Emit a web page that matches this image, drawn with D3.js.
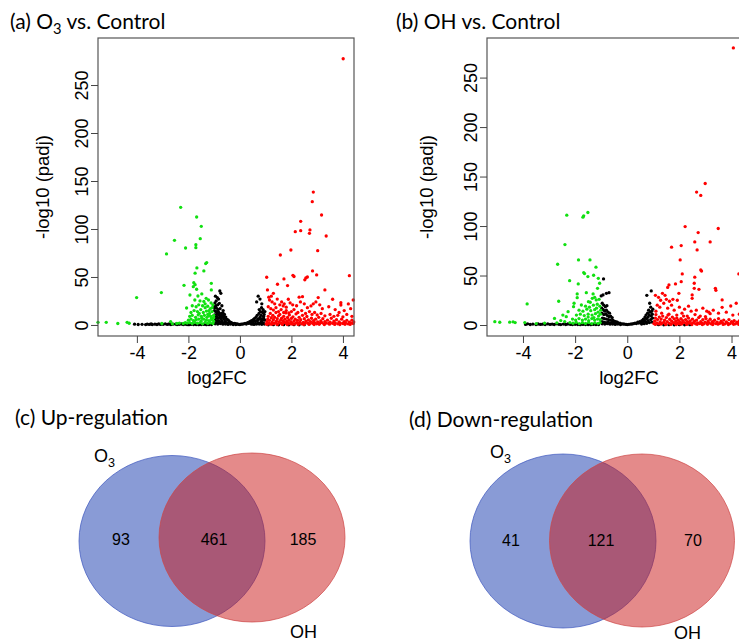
<!DOCTYPE html>
<html>
<head>
<meta charset="utf-8">
<script src="https://cdn.jsdelivr.net/npm/d3@7"></script>
<style>
  body { margin: 0; background: #fff; }
  svg { display: block; }
  .tick text { font-family: "Liberation Sans", Arial, sans-serif; font-size: 18px; fill: #000; }
  .tick line { stroke: #444; }
</style>
</head>
<body>
<svg width="739" height="642"></svg>
<script>
// volcano plots: [log2FC, -log10(padj)]
// (a) O3 vs control
const aNs = [
  [-4.09,0.8],[-3.95,0.5],[-3.8,0.7],[-3.66,0.4],[-3.6,0.9],[-3.52,0.6],[-3.45,1.0],[-3.4,0.5],[-3.3,0.8],[-3.22,0.5],
  [-3.15,1.1],[-3.08,0.6],[-2.98,0.7],[-2.9,1.2],[-2.82,0.6],[-2.75,1.0],[-2.68,0.4],[-2.6,0.8],[-2.5,0.9],[-2.44,0.5],
  [-2.36,0.7],[-2.28,1.0],[-2.2,0.4],[-2.12,0.8],[-2.05,0.5],[-1.98,0.3],[-1.9,0.6],[-1.8,0.4],[-1.7,0.5],[-1.6,0.3],
  [-1.5,0.4],[-1.4,0.6],[-1.3,0.3],[-1.2,0.5],[-1.1,0.4],
  [-0.78,35.4],[-0.74,33],[-0.95,30],[-0.88,28.5],[-0.83,27],[-0.92,25],[-0.97,23],[-0.80,22.5],[-0.86,21],[-0.70,20],
  [-0.96,19],[-0.91,17.5],[-0.77,17],[-0.84,16],[-0.65,15],[-0.99,15],[-0.93,13.5],[-0.82,13],[-0.72,12],[-0.88,11.5],
  [-0.60,11],[-0.98,10.5],[-0.90,9],[-0.78,9.5],[-0.68,8],[-0.55,8.2],[-0.94,7.5],[-0.84,7],[-0.74,6.5],[-0.62,6],
  [-0.50,5.8],[-0.45,5],[-0.96,5],[-0.88,4.5],[-0.80,4],[-0.70,4.2],[-0.58,3.8],[-0.40,3.5],[-0.35,2.8],[-0.92,2.5],
  [-0.82,2.2],[-0.72,2.8],[-0.62,2.0],[-0.52,2.4],[-0.44,1.8],[-0.30,2.0],[-0.25,1.4],[-0.20,1.6],[-0.15,1.0],[-0.10,1.2],
  [-0.05,0.6],[-0.96,1.2],[-0.86,1.0],[-0.76,1.4],[-0.66,0.8],[-0.56,1.0],[-0.46,0.6],[-0.36,0.9],[-0.26,0.5],[-0.16,0.4],
  [-0.99,18],[-0.94,20],[-0.9,14],[-0.85,12],[-0.8,10.5],[-0.75,8],[-0.7,10],[-0.66,12.5],[-0.62,9],[-0.58,7],
  [0.0,0.5],[0.05,0.8],[0.1,0.9],[0.15,1.2],[0.2,1.5],[0.25,1.0],[0.3,2.5],[0.34,1.6],[0.38,3.5],[0.42,2.2],
  [0.45,4.5],[0.5,3.0],[0.52,5.5],[0.56,6.5],[0.6,4.0],[0.62,8],[0.65,24],[0.67,10],[0.71,30],[0.7,6],
  [0.74,12],[0.75,16],[0.78,27],[0.78,8],[0.8,14],[0.82,10],[0.84,18],[0.85,22],[0.86,6],[0.88,13],
  [0.9,16],[0.92,9],[0.94,11],[0.96,5],[0.97,14],[0.5,1.2],[0.6,1.5],[0.7,2.0],[0.8,2.5],[0.9,2.2],
  [0.45,0.8],[0.55,0.6],[0.65,0.9],[0.75,1.0],[0.85,0.7],[0.95,1.0],[0.68,4.5],[0.76,6],[0.84,4],[0.92,7],
  [1.1,0.2],[1.3,0.3],[1.5,0.2],[1.7,0.3],[1.9,0.2],[2.1,0.3],[2.3,0.2],[2.5,0.3]
];
const aDown = [
  [-2.30,122.6],[-1.68,112.5],[-1.50,102.8],[-2.54,88.2],[-1.54,89.9],[-1.71,83.6],[-1.71,80.5],[-2.11,80.2],[-2.85,74],
  [-1.29,65],[-1.33,64],[-1.67,59.4],[-1.40,56.3],[-1.74,54],[-1.11,43.4],[-1.79,44],[-1.74,42],[-2.17,41.3],
  [-3.05,33.7],[-4.01,28.5],
  [-1.81,39.9],[-1.68,37.2],[-1.11,36.5],[-1.94,31.2],[-1.63,30.2],[-1.48,32.3],[-1.31,27.8],[-1.75,26],[-1.55,25],
  [-1.40,24.5],[-1.22,26],[-1.12,23],[-2.07,17.7],[-1.85,20],[-1.70,19],[-1.60,21],[-1.45,20],[-1.35,18],[-1.25,19.5],
  [-1.15,17],[-1.05,21],[-1.90,13],[-1.78,15],[-1.65,14],[-1.52,16],[-1.42,13],[-1.30,14.5],[-1.18,12],[-1.08,14],
  [-1.95,9],[-1.85,10],[-1.72,8],[-1.62,10.5],[-1.50,9],[-1.38,10],[-1.28,8],[-1.20,9.5],[-1.10,7],[-1.02,10],
  [-2.0,5],[-1.9,6],[-1.8,4.5],[-1.7,5.5],[-1.6,6],[-1.5,4],[-1.4,6],[-1.3,5],[-1.2,4.5],[-1.1,5.5],[-1.02,4],
  [-2.05,2],[-1.95,2.5],[-1.85,1.5],[-1.75,2.8],[-1.65,1.8],[-1.55,2.5],[-1.45,1.2],[-1.35,2.8],[-1.25,1.6],
  [-1.15,2.3],[-1.05,1.5],[-1.58,12],[-1.35,22],[-1.2,15],[-1.08,18],[-1.48,7],[-1.25,11],[-1.02,7.5],[-1.13,9],
  [-5.51,2.8],[-5.19,2.8],[-4.74,1.5],[-4.38,2.8],[-4.30,1.8],[-3.03,1.5],[-2.69,3.5],[-2.62,1.2],[-2.45,1.5],
  [-2.35,2],[-2.2,1.5],[-2.12,2.5]
];
const aUp = [
  [4.01,277.4],[2.85,138.5],[2.81,128.5],[3.17,114.6],[2.36,108],[2.15,97.2],[2.36,98.2],[2.72,99],[2.70,95.5],
  [3.35,92.7],[1.98,78.1],[3.02,77.4],[1.57,72.9],[2.82,56.3],[2.98,52.1],[2.56,49],[2.52,47],[2.62,50],[2.06,51.7],
  [2.10,50.5],[1.04,49.7],[1.71,48],[1.46,42.4],[4.25,51.4],[1.85,41],[1.07,36.5],[1.3,33],[1.22,30],[1.12,29],
  [3.30,36.5],[2.43,29.5],[2.30,29],[1.88,26.8],[3.04,28.5],[3.60,26.8],[3.92,23.2],[3.92,20.8],[4.21,21.9],[4.40,26],
  [2.76,19.8],[1.68,19.8],[1.80,18.5],
  [1.15,26],[1.25,24],[1.35,22],[1.45,27],[1.55,21],[1.62,24],[1.72,22],[1.95,23],[2.05,21],[2.2,20],[2.35,24],
  [2.5,22],[2.62,18],[2.85,22],[2.95,24],[3.1,21],[3.2,17],[3.45,19],[3.7,16],[3.85,13],[4.05,15],[4.3,17],
  [1.1,19],[1.2,17],[1.3,15.5],[1.4,18],[1.5,14],[1.6,16],[1.7,13],[1.8,15],[1.9,12.5],[2.0,14],[2.1,16],[2.25,13],
  [2.4,15],[2.55,12],[2.7,14],[2.8,11],[2.9,13],[3.0,10.5],[3.15,12],[3.3,9.5],[3.5,11],[3.65,9],[3.8,10],[4.0,8.5],
  [4.15,11],[4.35,9],
  [1.02,1.2],[1.05,3.5],[1.08,6.0],[1.1,9.0],[1.12,2.0],[1.15,4.8],[1.18,12],[1.2,1.0],[1.22,7.5],[1.25,3.0],
  [1.28,10],[1.3,5.5],[1.32,1.5],[1.35,8.0],[1.38,2.5],[1.4,13],[1.42,4.0],[1.45,6.5],[1.48,1.2],[1.5,9.5],
  [1.52,3.2],[1.55,11],[1.58,5.0],[1.6,2.0],[1.62,7.0],[1.65,1.0],[1.68,4.2],[1.7,9.0],[1.72,2.8],[1.75,6.0],
  [1.78,12.5],[1.8,1.5],[1.82,3.8],[1.85,7.8],[1.88,2.2],[1.9,5.2],[1.92,10.5],[1.95,1.2],[1.98,3.5],[2.0,6.8],
  [2.03,2.0],[2.06,8.5],[2.1,4.0],[2.12,1.0],[2.15,6.0],[2.18,11.5],[2.2,2.5],[2.24,4.8],[2.28,1.5],[2.3,8.0],
  [2.33,3.0],[2.36,5.5],[2.4,1.2],[2.43,10],[2.46,2.8],[2.5,6.5],[2.53,1.6],[2.56,4.0],[2.6,8.8],[2.63,2.2],
  [2.66,5.2],[2.7,1.0],[2.74,3.5],[2.78,7.0],[2.82,1.8],[2.86,4.5],[2.9,2.5],[2.94,6.0],[2.98,1.2],[3.02,3.2],
  [3.06,8.0],[3.1,1.8],[3.14,4.2],[3.18,2.5],[3.22,6.5],[3.26,1.2],[3.3,3.5],[3.35,2.0],[3.4,5.0],[3.45,1.5],
  [3.5,3.0],[3.55,7.0],[3.6,1.8],[3.65,4.0],[3.7,2.2],[3.75,5.5],[3.8,1.2],[3.85,3.2],[3.9,2.0],[3.95,6.0],
  [4.0,1.5],[4.05,3.5],[4.1,2.2],[4.15,4.8],[4.2,1.2],[4.25,3.0],[4.3,2.0],[4.35,5.0],[4.4,1.5],[4.42,3.2],
  [1.06,0.6],[1.24,0.8],[1.44,0.5],[1.64,0.7],[1.84,0.5],[2.04,0.8],[2.26,0.6],[2.48,0.5],[2.68,0.7],[2.88,0.5],
  [3.08,0.7],[3.28,0.5],[3.48,0.8],[3.68,0.6],[3.88,0.5],[4.08,0.7],[4.28,0.6]
];

// (b) OH vs control
const bNs = [
  [-3.9,0.6],[-3.82,1.2],[-3.72,0.5],[-3.62,0.9],[-3.5,0.4],[-3.42,1.0],[-3.33,0.6],[-3.25,0.8],[-3.15,0.5],[-3.05,1.1],
  [-2.96,0.6],[-2.88,0.9],[-2.8,0.5],[-2.7,1.2],[-2.62,0.7],[-2.55,0.4],[-2.45,0.9],[-2.36,0.5],[-2.28,1.0],[-2.18,0.6],
  [-2.1,0.4],[-2.0,0.7],[-1.9,0.5],[-1.8,0.3],[-1.7,0.6],[-1.6,0.4],[-1.5,0.5],[-1.4,0.3],[-1.3,0.6],[-1.2,0.4],[-1.1,0.5],
  [-0.91,46.6],[-1.0,29.4],[-0.93,30.4],[-0.80,32],[-0.70,32.7],
  [-0.96,22],[-0.9,20],[-0.84,18.5],[-0.78,19.5],[-0.98,17],[-0.92,15.5],[-0.86,14],[-0.8,15],[-0.74,13],[-0.68,12],
  [-0.97,12],[-0.9,10.5],[-0.83,11],[-0.76,9.5],[-0.7,8.5],[-0.64,9],[-0.58,7.5],[-0.95,7],[-0.88,6.5],[-0.8,6],
  [-0.72,5.5],[-0.65,5],[-0.56,4.8],[-0.5,4],[-0.44,3.5],[-0.38,3],[-0.97,3.5],[-0.9,3],[-0.82,2.5],[-0.74,3],
  [-0.66,2.2],[-0.58,2.6],[-0.5,1.8],[-0.42,2],[-0.34,1.6],[-0.28,1.8],[-0.22,1.2],[-0.16,1.0],[-0.1,0.8],[-0.04,0.6],
  [-0.96,1.2],[-0.86,1.0],[-0.76,1.4],[-0.66,0.8],[-0.56,1.0],[-0.46,0.6],[-0.36,0.9],[-0.26,0.5],
  [0.0,0.4],[0.06,0.7],[0.12,0.9],[0.18,1.0],[0.24,1.4],[0.3,2.0],[0.35,1.5],[0.4,2.8],[0.44,2.0],[0.48,3.5],
  [0.52,2.5],[0.56,4.5],[0.6,3.2],[0.62,6],[0.66,5],[0.68,8],[0.72,10],[0.74,6.5],[0.75,30],[0.78,12],
  [0.8,8],[0.82,15],[0.84,10],[0.86,22],[0.88,13],[0.9,18],[0.92,34.4],[0.92,9],[0.94,14],[0.96,11],
  [0.98,16],[0.55,1.0],[0.65,1.4],[0.75,1.8],[0.85,2.5],[0.95,3],[0.7,3.5],[0.8,4.5],[0.9,5.5],[0.97,7],
  [1.2,0.3],[1.4,0.2],[1.6,0.3],[1.8,0.2],[2.0,0.3],[2.2,0.2],[2.4,0.3]
];
const bDown = [
  [-2.32,111],[-1.67,110.3],[-1.51,113.7],[-1.70,109],[-2.39,81.3],[-1.87,65.8],[-1.43,65.8],[-2.67,61.4],
  [-1.20,58.4],[-1.67,53],[-1.64,52],[-1.51,48.9],[-1.29,50.3],[-2.21,44.8],[-1.88,41.5],[-1.11,47.2],[-1.06,42.2],
  [-1.92,31.4],[-1.92,27.6],[-1.14,37.1],[-2.63,24],[-3.84,21.3],[-2.04,22],
  [-1.57,32.7],[-1.31,31.4],[-1.34,27],[-1.19,25.3],[-1.49,23.6],[-1.76,20.2],[-2.06,18.5],[-2.27,13.5],[-2.34,8.4],
  [-1.6,19],[-1.45,18],[-1.3,20],[-1.15,21],[-1.05,19],[-1.85,15],[-1.7,14],[-1.55,16],[-1.4,14.5],[-1.25,15.5],
  [-1.12,13],[-1.02,15],[-1.95,10],[-1.8,11],[-1.65,9.5],[-1.5,11],[-1.35,10],[-1.22,11.5],[-1.1,9],[-1.03,11],
  [-2.1,6],[-1.98,5],[-1.85,6.5],[-1.72,5],[-1.6,6],[-1.48,4.5],[-1.36,6.5],[-1.25,5],[-1.14,6],[-1.04,5.5],
  [-2.2,2.5],[-2.08,1.8],[-1.96,2.8],[-1.84,1.5],[-1.72,2.4],[-1.6,1.6],[-1.48,2.6],[-1.36,1.4],[-1.24,2.2],
  [-1.12,1.6],[-1.04,2.5],[-1.5,8],[-1.28,7.5],[-1.18,17],[-1.42,23],[-1.08,26],[-1.25,28],
  [-5.08,3.4],[-4.89,2.8],[-4.51,2.9],[-4.38,3.2],[-4.3,2.5],[-3.93,2.5],[-3.49,1.5],[-3.17,2.0],[-2.79,6.7],
  [-2.7,2.2],[-2.47,10],[-2.4,3.5],[-2.55,4.5]
];
const bUp = [
  [4.07,280],[2.99,143],[2.66,134.3],[2.82,130.9],[2.22,99.5],[3.49,97.5],[2.72,93.4],[2.59,84],[2.68,75.9],
  [3.18,84],[1.70,78.6],[2.07,80.3],[2.03,65.8],[2.82,55.7],[2.85,54.5],[2.11,51.6],[2.59,48.3],[4.28,51.6],
  [2.07,43.8],[1.85,41.5],[1.60,40.5],[1.55,38],[2.57,42.2],[2.57,37.1],[2.75,36.1],[3.38,37.1],[3.40,35],
  [2.49,30.4],[2.49,27],[1.98,32],[1.92,25],[1.75,26],[3.64,25.3],[3.97,19.2],[3.64,17.9],[4.18,22],[3.13,13],[3.18,11.5],
  [1.08,30],[1.2,28],[1.35,32],[1.45,30],[1.28,25],[1.4,22],[1.5,26],[1.62,24],[1.7,20],[1.15,20],[1.25,18],
  [1.55,17],[1.8,15],[2.0,18],[2.2,16],[2.35,19],[2.45,14],[2.65,15],[2.9,17],[3.05,14],[3.3,15],[3.5,12],
  [3.8,13],[4.05,10],[4.3,11],[1.1,14],[1.32,12],[1.6,11],[1.9,10],[2.1,12],[2.3,9],[2.6,10.5],[2.8,9],[3.0,8.5],
  [1.02,1.5],[1.05,4.0],[1.08,7.0],[1.1,10.5],[1.13,2.2],[1.16,5.5],[1.2,1.2],[1.23,8.0],[1.26,3.2],[1.3,6.0],
  [1.33,1.6],[1.36,9.0],[1.4,2.8],[1.43,5.0],[1.46,1.2],[1.5,7.5],[1.53,3.5],[1.56,10],[1.6,2.0],[1.63,5.8],
  [1.66,1.0],[1.7,4.0],[1.73,8.0],[1.76,2.5],[1.8,6.2],[1.83,1.5],[1.86,3.8],[1.9,7.0],[1.93,2.0],[1.96,4.8],
  [2.0,1.2],[2.03,3.2],[2.06,6.5],[2.1,1.8],[2.13,4.5],[2.16,9.0],[2.2,2.5],[2.24,5.5],[2.28,1.2],[2.31,3.5],
  [2.35,7.0],[2.38,2.0],[2.42,4.2],[2.46,1.5],[2.5,6.0],[2.54,2.5],[2.58,3.8],[2.62,1.2],[2.66,5.0],[2.7,2.2],
  [2.74,7.5],[2.78,1.5],[2.82,3.5],[2.86,2.0],[2.9,5.5],[2.94,1.2],[2.98,3.0],[3.02,6.5],[3.06,1.8],[3.1,4.0],
  [3.14,2.2],[3.18,5.8],[3.22,1.2],[3.26,3.5],[3.3,2.0],[3.35,4.8],[3.4,1.5],[3.45,3.0],[3.5,6.5],[3.55,1.8],
  [3.6,3.8],[3.65,2.2],[3.7,5.0],[3.75,1.2],[3.8,3.2],[3.85,2.0],[3.9,5.5],[3.95,1.5],[4.0,3.5],[4.05,2.2],
  [4.1,4.5],[4.15,1.2],[4.2,3.0],[4.25,2.0],[4.3,4.2],[4.35,1.5],[4.4,3.0],
  [1.08,0.6],[1.28,0.8],[1.48,0.5],[1.68,0.7],[1.88,0.5],[2.08,0.8],[2.28,0.6],[2.48,0.5],[2.68,0.7],[2.88,0.5],
  [3.08,0.7],[3.28,0.5],[3.48,0.8],[3.68,0.6],[3.88,0.5],[4.08,0.7],[4.28,0.6]
];

const yTicks = [0, 50, 100, 150, 200, 250];
const xTicks = [-4, -2, 0, 2, 4];

// venn counts: [only O3, both, only OH]
const vennSets = ["O3", "OH"];
const upCounts = [93, 461, 185];
const downCounts = [41, 121, 70];

const svg = d3.select("svg");
const titleFont = "Lato, 'Open Sans', sans-serif";
const axisFont = "'Liberation Sans', Arial, sans-serif";

// text with an O3 subscript
const subText = (sel, before, sub, after) => {
  sel.append("tspan").text(before);
  sel.append("tspan").text(sub).attr("font-size", "0.7em").attr("dy", 5);
  if (after) sel.append("tspan").text(after).attr("dy", -5);
};

const volcano = (cfg) => {
  const x = d3.scaleLinear().domain(cfg.xDomain).range([cfg.left, cfg.right]);
  const y = d3.scaleLinear().domain(cfg.yDomain).range([cfg.bottom, cfg.top]);
  const g = svg.append("g");

  const layers = [[cfg.ns, "#000"], [cfg.down, "#11e011"], [cfg.up, "#ff0000"]];
  layers.forEach(([pts, col]) => {
    g.append("g").selectAll("circle")
      .data(pts)
      .join("circle")
      .attr("cx", d => x(d[0]))
      .attr("cy", d => y(d[1]))
      .attr("r", 1.65)
      .attr("fill", col);
  });

  g.append("rect")
    .attr("x", cfg.left).attr("y", cfg.top)
    .attr("width", cfg.right - cfg.left).attr("height", cfg.bottom - cfg.top)
    .attr("fill", "none").attr("stroke", "#555").attr("stroke-width", 1.2);

  const yAx = g.append("g")
    .attr("transform", `translate(${cfg.left},0)`)
    .call(d3.axisLeft(y).tickValues(yTicks).tickSize(7));
  yAx.select(".domain").remove();
  yAx.selectAll("text")
    .attr("x", null).attr("dy", null)
    .attr("transform", "translate(-10,0) rotate(-90)")
    .attr("text-anchor", "middle");

  const xAx = g.append("g")
    .attr("transform", `translate(0,${cfg.bottom})`)
    .call(d3.axisBottom(x).tickValues(xTicks).tickSize(7).tickFormat(d => d < 0 ? "-" + Math.abs(d) : d));
  xAx.select(".domain").remove();

  g.append("text")
    .attr("transform", `translate(${cfg.yLabX},${(cfg.top + cfg.bottom) / 2}) rotate(-90)`)
    .attr("text-anchor", "middle")
    .attr("font-family", axisFont).attr("font-size", 18.5)
    .text("-log10 (padj)");

  g.append("text")
    .attr("x", cfg.xLabX).attr("y", 384)
    .attr("text-anchor", "middle")
    .attr("font-family", axisFont).attr("font-size", 18.5)
    .text("log2FC");

  const t = g.append("text")
    .attr("x", cfg.titleX).attr("y", 29)
    .attr("font-family", titleFont).attr("font-size", 21);
  if (cfg.sub) subText(t, cfg.titleA, cfg.sub, cfg.titleB);
  else t.text(cfg.titleA + cfg.titleB);
};

volcano({
  ns: aNs, down: aDown, up: aUp,
  xDomain: [-5.51, 4.43], yDomain: [-11.5, 299],
  left: 98, right: 354, top: 38, bottom: 336,
  yLabX: 49, xLabX: 217, titleX: 10,
  titleA: "(a) O", sub: "3", titleB: " vs. Control"
});

volcano({
  ns: bNs, down: bDown, up: bUp,
  xDomain: [-5.38, 4.44], yDomain: [-11.1, 290],
  left: 487, right: 743, top: 38, bottom: 336,
  yLabX: 433, xLabX: 629, titleX: 396,
  titleA: "(b) OH vs. Control", sub: null, titleB: ""
});

const venn = (cfg, counts) => {
  const g = svg.append("g");
  g.append("text")
    .attr("x", cfg.titleX).attr("y", cfg.titleY)
    .attr("font-family", titleFont).attr("font-size", 21)
    .text(cfg.title);

  const ell = [
    {c: cfg.blue, fill: "rgb(19,55,173)", stroke: "rgb(60,85,190)"},
    {c: cfg.red, fill: "rgb(202,22,22)", stroke: "rgb(205,70,70)"}
  ];
  g.selectAll("ellipse")
    .data(ell)
    .join("ellipse")
    .attr("cx", d => d.c[0]).attr("cy", d => d.c[1])
    .attr("rx", d => d.c[2]).attr("ry", d => d.c[3])
    .attr("fill", d => d.fill).attr("fill-opacity", 0.5)
    .attr("stroke", d => d.stroke).attr("stroke-opacity", 0.7).attr("stroke-width", 1);

  g.selectAll("text.count")
    .data(counts)
    .join("text")
    .attr("class", "count")
    .attr("x", (d, i) => cfg.countX[i]).attr("y", cfg.countY)
    .attr("text-anchor", "middle")
    .attr("font-family", axisFont).attr("font-size", 16)
    .text(d => d);

  const o3 = g.append("text")
    .attr("x", cfg.o3[0]).attr("y", cfg.o3[1])
    .attr("font-family", axisFont).attr("font-size", 18);
  subText(o3, vennSets[0].slice(0, 1), vennSets[0].slice(1), null);

  g.append("text")
    .attr("x", cfg.oh[0]).attr("y", cfg.oh[1])
    .attr("font-family", axisFont).attr("font-size", 18)
    .text(vennSets[1]);
};

venn({
  title: "(c) Up-regulation", titleX: 15, titleY: 425,
  blue: [172, 541, 93, 85.5], red: [252, 537.5, 93, 84.5],
  countX: [121, 214, 303], countY: 545,
  o3: [94, 462], oh: [290, 638]
}, upCounts);

venn({
  title: "(d) Down-regulation", titleX: 409, titleY: 427,
  blue: [563, 541, 93, 87], red: [642, 540.5, 92.5, 86.5],
  countX: [511, 601, 693], countY: 546,
  o3: [490, 458], oh: [674, 639]
}, downCounts);
</script>
</body>
</html>
